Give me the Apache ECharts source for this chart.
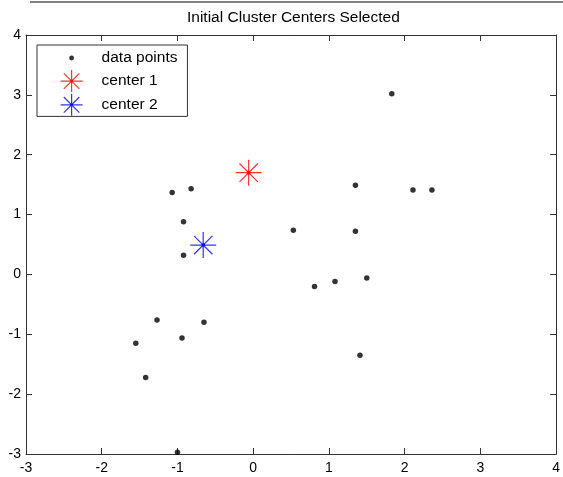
<!DOCTYPE html>
<html>
<head>
<meta charset="utf-8">
<script src="https://cdn.jsdelivr.net/npm/echarts@6/dist/echarts.min.js"></script>
<style>
html,body{margin:0;padding:0;background:#fff;}
#chart{width:563px;height:477px;}
</style>
</head>
<body>
<div id="chart"></div>
<script>
// ---- data ----
const titleText = 'Initial Cluster Centers Selected';
const xTicks = [-3, -2, -1, 0, 1, 2, 3, 4];
const yTicks = [-3, -2, -1, 0, 1, 2, 3, 4];
const dataX = [1.83, -1.07, -0.82, -0.92, -0.92, 0.53, 1.35, 2.11, 2.36, 1.35, 0.81, 1.08, 1.50, 1.41, -1.27, -0.65, -1.55, -0.94, -1.42, -1.00];
const dataY = [3.02, 1.37, 1.43, 0.88, 0.32, 0.74, 1.49, 1.41, 1.41, 0.72, -0.20, -0.12, -0.06, -1.35, -0.76, -0.80, -1.15, -1.06, -1.72, -2.97];
const center1 = [-0.06, 1.70];
const center2 = [-0.66, 0.49];
const names = ['data points', 'center 1', 'center 2'];

const points = dataX.map((x, i) => [x, dataY[i]]);

const star = 'path://M0,-1 L0,1 M-1,0 L1,0 M-0.707,-0.707 L0.707,0.707 M-0.707,0.707 L0.707,-0.707 M0.12,0 A0.12,0.12 0 1 1 -0.12,0 A0.12,0.12 0 1 1 0.12,0 Z';
// legend icons: corner move-points fix the bounding box to the legend item's aspect (50x22)
const starLegend = 'path://M-2.2727,-1 M2.2727,1 M0,-1 L0,1 M-1,0 L1,0 M-0.707,-0.707 L0.707,0.707 M-0.707,0.707 L0.707,-0.707 M0.12,0 A0.12,0.12 0 1 1 -0.12,0 A0.12,0.12 0 1 1 0.12,0 Z';
const dotLegend = 'path://M-2.2727,-1 M2.2727,1 M0.22,0 A0.22,0.22 0 1 1 -0.22,0 A0.22,0.22 0 1 1 0.22,0 Z';

const FONT = '"Liberation Sans", Arial, Helvetica, sans-serif';
const AX = '#333333';

function axisCommon(pos, show) {
  return {
    type: 'value', position: pos, min: -3, max: 4, interval: 1,
    axisLine: { show: true, onZero: false, lineStyle: { color: AX, width: 1 } },
    axisTick: { show: true, inside: true, length: 6, lineStyle: { color: AX } },
    splitLine: { show: false },
    axisLabel: { show: show, color: '#000', fontFamily: FONT, fontSize: 14, margin: 5, showMinLabel: true, showMaxLabel: true }
  };
}

const chart = echarts.init(document.getElementById('chart'), null, { renderer: 'canvas' });
const xb = axisCommon('bottom', true); xb.axisLabel.margin = 7;
const yl = axisCommon('left', true); yl.axisLabel.margin = 5;
chart.setOption({
  animation: false,
  backgroundColor: '#ffffff',
  title: {
    text: titleText, left: 187, top: 10, padding: 0,
    textStyle: { fontFamily: FONT, fontSize: 15.5, fontWeight: 'normal', color: '#000' }
  },
  graphic: [{
    type: 'line', silent: true,
    shape: { x1: 30, y1: 2, x2: 563, y2: 2 },
    style: { stroke: '#808080', lineWidth: 2 }
  }],
  grid: { left: 26, right: 3, top: 35, bottom: 23, containLabel: false },
  xAxis: [xb, axisCommon('top', false)],
  yAxis: [yl, axisCommon('right', false)],
  legend: {
    orient: 'vertical', left: 37, top: 45,
    padding: [2, 10, 0, 9], itemGap: 0.5,
    itemWidth: 50, itemHeight: 22,
    backgroundColor: '#fff', borderColor: AX, borderWidth: 1,
    selectedMode: false,
    textStyle: { fontFamily: FONT, fontSize: 15.5, color: '#000' },
    data: [
      { name: names[0], icon: dotLegend, itemStyle: { color: '#000', borderWidth: 0 } },
      { name: names[1], icon: starLegend, itemStyle: { color: '#ff0000', borderColor: '#ff0000', borderWidth: 1.2 } },
      { name: names[2], icon: starLegend, itemStyle: { color: '#0000ff', borderColor: '#0000ff', borderWidth: 1.2 } }
    ]
  },
  series: [
    {
      name: names[0], type: 'scatter', silent: true, symbol: 'circle', symbolSize: 5.5,
      itemStyle: { color: '#000' }, data: points
    },
    {
      name: names[1], type: 'scatter', silent: true, symbol: star, symbolSize: 26,
      itemStyle: { color: '#ff0000', borderColor: '#ff0000', borderWidth: 1.2 }, data: [center1]
    },
    {
      name: names[2], type: 'scatter', silent: true, symbol: star, symbolSize: 26,
      itemStyle: { color: '#0000ff', borderColor: '#0000ff', borderWidth: 1.2 }, data: [center2]
    }
  ]
});
</script>
</body>
</html>
